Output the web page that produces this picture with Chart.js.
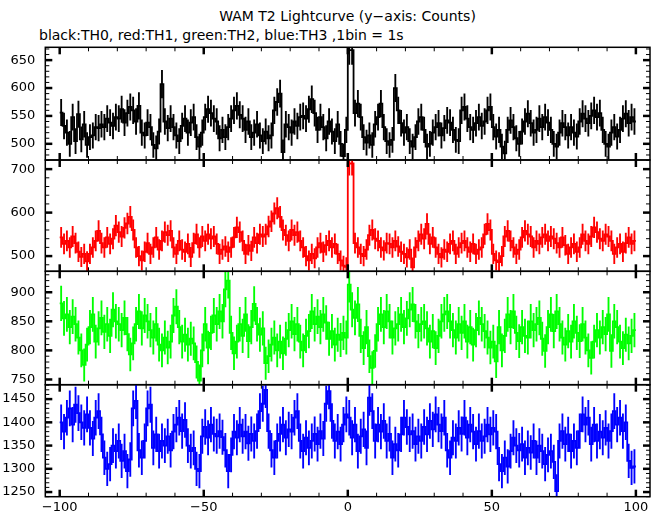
<!DOCTYPE html>
<html lang="en">
<head>
<meta charset="UTF-8">
<title>WAM T2 Lightcurve</title>
<style>
  body { margin: 0; background: #fff; }
  .box { position: relative; width: 662px; height: 515px; font-family: "DejaVu Sans", sans-serif; color: #000; }
  .box canvas { position: absolute; left: 0; top: 0; }
  #title { position: absolute; left: 45px; width: 605px; top: 8px; text-align: center; font-size: 14px; line-height: 16px; }
  #subtitle { position: absolute; left: 39px; top: 27px; font-size: 14px; line-height: 16px; white-space: nowrap; }
</style>
</head>
<body>
<div class="box">
  <div id="title">WAM T2 Lightcurve (y−axis: Counts)</div>
  <div id="subtitle">black:TH0, red:TH1, green:TH2, blue:TH3 ,1bin = 1s</div>
  <canvas id="p0" width="662" height="515"></canvas>
  <canvas id="p1" width="662" height="515"></canvas>
  <canvas id="p2" width="662" height="515"></canvas>
  <canvas id="p3" width="662" height="515"></canvas>
</div>
<script src="https://cdn.jsdelivr.net/npm/chart.js"></script>
<script>
// 1 s bins, left edges from -100 to 99
const binFirst = -100;
const binCount = 200;

const xTicks = [-100, -50, 0, 50, 100];

// TH0 (black)
const th0 = [
  556, 532, 520, 500, 548, 505, 553, 508, 535, 498,
  512, 515, 530, 528, 535, 530, 545, 538, 532, 548,
  545, 562, 538, 555, 566, 560, 540, 568, 520, 515,
  538, 530, 498, 492, 522, 607, 540, 528, 545, 530,
  515, 505, 532, 545, 520, 538, 548, 512, 495, 520,
  548, 562, 555, 545, 540, 510, 525, 512, 530, 545,
  560, 568, 552, 545, 525, 540, 512, 520, 535, 515,
  505, 522, 510, 515, 560, 575, 590, 485, 535, 530,
  520, 540, 532, 548, 550, 545, 562, 580, 555, 525,
  548, 530, 510, 540, 522, 505, 535, 500, 478, 525,
  668, 668, 555, 572, 548, 512, 502, 515, 498, 535,
  548, 572, 530, 505, 498, 507, 600, 560, 537, 520,
  530, 505, 495, 512, 540, 548, 525, 495, 500, 520,
  530, 537, 515, 528, 542, 538, 525, 507, 505, 560,
  566, 545, 530, 525, 537, 548, 532, 540, 560, 566,
  530, 513, 525, 495, 483, 525, 542, 530, 510, 500,
  522, 540, 554, 537, 520, 525, 545, 530, 548, 538,
  525, 500, 495, 520, 537, 530, 515, 530, 520, 513,
  540, 554, 545, 537, 550, 560, 548, 555, 525, 500,
  495, 520, 530, 513, 525, 545, 554, 537, 548, 540
];
// TH1 (red)
const th1 = [
  543, 528, 535, 520, 545, 530, 510, 498, 505, 488,
  505, 520, 535, 558, 530, 520, 543, 528, 540, 570,
  555, 545, 565, 575, 590, 560, 520, 500, 490, 510,
  530, 505, 520, 543, 515, 535, 555, 548, 558, 520,
  505, 535, 515, 510, 528, 498, 530, 550, 520, 545,
  535, 550, 540, 545, 528, 505, 515, 522, 510, 520,
  543, 566, 555, 535, 505, 525, 512, 543, 530, 550,
  545, 550, 568, 580, 598, 610, 590, 560, 548, 535,
  560, 548, 555, 535, 520, 500, 490, 505, 495, 520,
  530, 510, 525, 535, 520, 528, 505, 490, 478, 475,
  713, 713, 530, 520, 505, 500, 515, 548, 560, 540,
  535, 520, 513, 530, 528, 520, 535, 522, 510, 505,
  497, 515, 474, 520, 535, 550, 540, 574, 528, 543,
  520, 505, 497, 515, 510, 528, 535, 505, 520, 530,
  535, 520, 510, 528, 505, 515, 520, 550, 574, 560,
  505, 490, 486, 500, 545, 558, 535, 520, 505, 515,
  543, 558, 550, 545, 520, 535, 528, 543, 550, 535,
  545, 540, 530, 520, 543, 525, 505, 520, 528, 510,
  520, 550, 535, 528, 545, 566, 555, 540, 535, 550,
  545, 535, 505, 520, 528, 510, 530, 543, 528, 535
];
// TH2 (green)
const th2 = [
  881, 855, 862, 840, 858, 845, 822, 800, 775, 810,
  840, 862, 815, 838, 856, 832, 845, 825, 870, 850,
  845, 835, 856, 828, 793, 812, 845, 867, 838, 860,
  850, 835, 822, 845, 810, 800, 822, 805, 815, 860,
  875, 840, 815, 827, 810, 820, 812, 780, 748, 800,
  845, 805, 830, 860, 845, 867, 850, 905, 920, 830,
  795, 815, 845, 825, 862, 816, 840, 880, 845, 827,
  838, 778, 790, 810, 822, 800, 815, 795, 820, 835,
  850, 828, 845, 815, 800, 825, 833, 867, 845, 858,
  840, 862, 848, 820, 833, 810, 827, 818, 830, 822,
  913, 870, 856, 879, 825, 804, 840, 790, 770, 799,
  845, 862, 840, 867, 850, 822, 838, 845, 862, 840,
  855, 870, 879, 850, 833, 845, 850, 838, 815, 833,
  804, 825, 850, 862, 867, 850, 835, 822, 845, 830,
  850, 815, 840, 810, 835, 856, 845, 833, 822, 805,
  815, 781, 840, 800, 825, 862, 840, 867, 830, 816,
  840, 825, 822, 850, 835, 845, 856, 820, 799, 840,
  862, 833, 867, 845, 822, 810, 833, 815, 850, 830,
  816, 845, 822, 800, 787, 815, 835, 822, 840, 828,
  862, 799, 850, 840, 815, 804, 827, 812, 825, 835
];
// TH3 (blue)
const th3 = [
  1400, 1380, 1410, 1430, 1395, 1438, 1420, 1400, 1388, 1417,
  1388, 1365, 1410, 1424, 1374, 1324, 1300, 1310, 1350, 1338,
  1360, 1317, 1338, 1295, 1320, 1430, 1446, 1340, 1324, 1360,
  1430, 1438, 1345, 1374, 1338, 1360, 1350, 1370, 1340, 1380,
  1395, 1410, 1381, 1405, 1350, 1338, 1345, 1300, 1295, 1370,
  1390, 1367, 1395, 1375, 1370, 1381, 1368, 1340, 1295, 1330,
  1380, 1367, 1395, 1370, 1380, 1355, 1375, 1360, 1381, 1424,
  1440, 1470, 1381, 1340, 1324, 1360, 1375, 1395, 1367, 1385,
  1380, 1410, 1424, 1360, 1338, 1367, 1345, 1360, 1375, 1353,
  1381, 1365, 1440, 1467, 1403, 1360, 1380, 1353, 1395, 1417,
  1410, 1367, 1395, 1338, 1370, 1385, 1345, 1453, 1424, 1360,
  1395, 1380, 1403, 1360, 1375, 1324, 1353, 1340, 1374, 1410,
  1390, 1374, 1381, 1353, 1370, 1360, 1390, 1374, 1403, 1385,
  1417, 1395, 1381, 1410, 1340, 1324, 1367, 1360, 1388, 1375,
  1410, 1367, 1395, 1380, 1353, 1381, 1360, 1370, 1395, 1374,
  1388, 1380, 1310, 1295, 1324, 1305, 1338, 1367, 1350, 1340,
  1353, 1324, 1345, 1335, 1360, 1324, 1350, 1338, 1310, 1330,
  1338, 1315, 1252, 1360, 1381, 1353, 1374, 1338, 1360, 1345,
  1381, 1417, 1395, 1410, 1353, 1395, 1360, 1380, 1367, 1388,
  1360, 1381, 1424, 1395, 1410, 1381, 1400, 1317, 1302, 1305
];

const yTicks0 = [500, 550, 600, 650];
const yTicks1 = [500, 600, 700];
const yTicks2 = [750, 800, 850, 900];
const yTicks3 = [1250, 1300, 1350, 1400, 1450];

// panel boxes in page pixels
const panels = [
  { id: 'p0', values: th0, color: '#000000', ticks: yTicks0, min: 471, max: 673, minor: 10, top: 47.3, bottom: 160 },
  { id: 'p1', values: th1, color: '#ff0000', ticks: yTicks1, min: 465, max: 721, minor: 20, top: 160, bottom: 271.3 },
  { id: 'p2', values: th2, color: '#00ff00', ticks: yTicks2, min: 741, max: 936, minor: 10, top: 271.3, bottom: 384.7 },
  { id: 'p3', values: th3, color: '#0000ff', ticks: yTicks3, min: 1240, max: 1481, minor: 10, top: 384.7, bottom: 496.7 }
];

const W = 662, H = 515;
const minus = s => String(s).replace('-', '\u2212');

// inward tick marks and frame, like the original plot
const frameTicks = {
  id: 'frameTicks',
  afterDraw(chart, args, opts) {
    const { ctx, chartArea: a, scales: { x, y } } = chart;
    const seg = (x1, y1, x2, y2) => { ctx.beginPath(); ctx.moveTo(x1, y1); ctx.lineTo(x2, y2); ctx.stroke(); };
    ctx.save();
    ctx.strokeStyle = '#000';
    for (let v = -100; v <= 100; v += 10) {
      const px = x.getPixelForValue(v);
      const major = v % 50 === 0;
      const len = major ? 7 : 4;
      ctx.lineWidth = major ? 2.5 : 1;
      seg(px, a.top, px, a.top + len);
      seg(px, a.bottom, px, a.bottom - len);
    }
    const first = Math.ceil(y.min / opts.minor) * opts.minor;
    for (let v = first; v <= y.max; v += opts.minor) {
      const py = y.getPixelForValue(v);
      const major = opts.ticks.includes(v);
      const len = major ? 7 : 4;
      ctx.lineWidth = major ? 2.5 : 1;
      seg(a.left, py, a.left + len, py);
      seg(a.right, py, a.right - len, py);
    }
    ctx.lineWidth = 1.5;
    ctx.strokeRect(a.left, a.top, a.right - a.left, a.bottom - a.top);
    ctx.restore();
  }
};

panels.forEach((p, i) => {
  const last = i === panels.length - 1;
  const steps = [];
  const errs = [];
  p.values.forEach((v, k) => {
    const x0 = binFirst + k;
    steps.push({ x: x0, y: v });
    const e = Math.sqrt(v);
    errs.push({ x: x0 + 0.5, y: [v - e, v + e] });
  });
  steps.push({ x: binFirst + binCount, y: p.values[p.values.length - 1] });

  new Chart(document.getElementById(p.id), {
    type: 'line',
    data: {
      datasets: [
        {
          type: 'bar',
          data: errs,
          backgroundColor: p.color,
          borderWidth: 0,
          barThickness: 1.2,
          grouped: false
        },
        {
          type: 'line',
          data: steps,
          stepped: true,
          borderColor: p.color,
          borderWidth: 1.8,
          pointRadius: 0,
          fill: false
        }
      ]
    },
    options: {
      responsive: false,
      animation: false,
      events: [],
      devicePixelRatio: 1,
      layout: { padding: { left: 0, right: W - 650, top: p.top, bottom: last ? 0 : H - p.bottom } },
      plugins: {
        legend: { display: false },
        tooltip: { enabled: false },
        frameTicks: { minor: p.minor, ticks: p.ticks }
      },
      scales: {
        x: {
          type: 'linear',
          min: -105,
          max: 104.9,
          offset: false,
          display: last,
          grid: { display: false, drawTicks: false, offset: false },
          border: { display: false },
          afterBuildTicks: s => { s.ticks = xTicks.map(v => ({ value: v })); },
          afterFit: s => { if (last) s.height = H - p.bottom; },
          ticks: {
            color: '#000',
            padding: 3,
            maxRotation: 0,
            font: { family: 'DejaVu Sans', size: 13 },
            callback: v => minus(v)
          }
        },
        y: {
          min: p.min,
          max: p.max,
          grid: { display: false, drawTicks: false },
          border: { display: false },
          afterBuildTicks: s => { s.ticks = p.ticks.map(v => ({ value: v })); },
          afterFit: s => { s.width = 45.3; },
          ticks: {
            color: '#000',
            padding: 10,
            font: { family: 'DejaVu Sans', size: 13 },
            callback: v => minus(v)
          }
        }
      }
    },
    plugins: [frameTicks]
  });
});
</script>
</body>
</html>
